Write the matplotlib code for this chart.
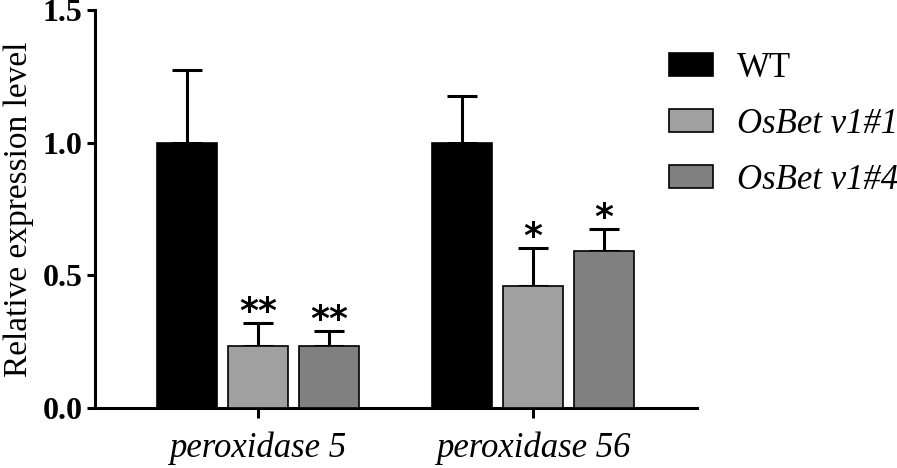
import matplotlib.pyplot as plt
import numpy as np

# values
genes = ["peroxidase 5", "peroxidase 56"]
lines = ["WT", "OsBet v1#1", "OsBet v1#4"]
means = {
    "WT": [1.0, 1.0],
    "OsBet v1#1": [0.235, 0.458],
    "OsBet v1#4": [0.235, 0.591],
}
errs = {
    "WT": [0.272, 0.174],
    "OsBet v1#1": [0.087, 0.145],
    "OsBet v1#4": [0.055, 0.083],
}
stars = {
    "WT": ["", ""],
    "OsBet v1#1": ["**", "*"],
    "OsBet v1#4": ["**", "*"],
}
colors = {"WT": "#000000", "OsBet v1#1": "#a0a0a0", "OsBet v1#4": "#808080"}

plt.rcParams["font.family"] = ["Liberation Serif", "DejaVu Serif"]

fig = plt.figure(figsize=(8.97, 4.68), dpi=100)
ax = fig.add_axes([95 / 897, 60 / 468, 602 / 897, 398 / 468])

x = np.arange(len(genes))
width = 0.218
step = 0.258

handles = []
for i, name in enumerate(lines):
    pos = x + (i - 1) * step
    bars = ax.bar(pos, means[name], width, color=colors[name],
                  edgecolor="black", linewidth=1.2, zorder=3)
    handles.append(bars)
    ax.errorbar(pos, means[name], yerr=[np.zeros(len(x)), errs[name]],
                fmt="none", ecolor="black", elinewidth=2.2, capsize=10.5,
                capthick=2.2, zorder=2)
    for p, m, e, s in zip(pos, means[name], errs[name], stars[name]):
        if s:
            ax.text(p, m + e + 0.004, s, ha="center", va="baseline",
                    fontsize=26, family="DejaVu Sans", fontweight="bold")

ax.set_xlim(-0.593, 1.596)
ax.set_ylim(0, 1.5)
ax.set_yticks([0.0, 0.5, 1.0, 1.5])
ax.set_yticklabels(["0.0", "0.5", "1.0", "1.5"], fontsize=23, fontweight="bold")
ax.set_xticks(x)
ax.set_xticklabels(genes, fontsize=25, style="italic")
ax.set_ylabel("Relative expression level", fontsize=24, labelpad=6)

for side in ("top", "right"):
    ax.spines[side].set_visible(False)
for side in ("left", "bottom"):
    ax.spines[side].set_linewidth(2.2)
ax.tick_params(axis="y", length=6, width=2.2, pad=3)
ax.tick_params(axis="x", length=7, width=2.2, pad=10)

leg = fig.legend(handles, lines, loc="upper left",
                 bbox_to_anchor=(669 / 897, 1 - 52 / 468), frameon=False,
                 fontsize=25, handlelength=1.27, handleheight=0.63,
                 handletextpad=0.69, labelspacing=0.66, borderpad=0,
                 borderaxespad=0)
for t in leg.get_texts()[1:]:
    t.set_style("italic")

fig.savefig("out.png", dpi=100)
